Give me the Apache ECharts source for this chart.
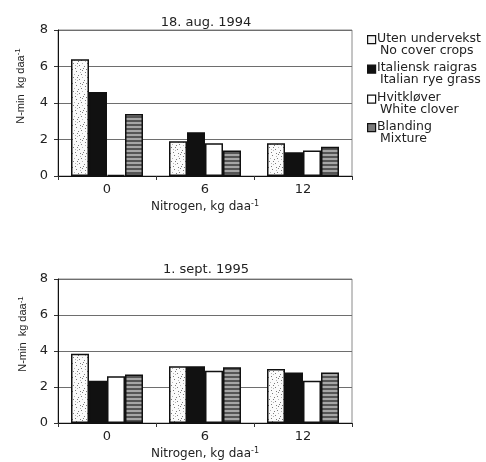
<!DOCTYPE html>
<html>
<head>
<meta charset="utf-8">
<script src="https://cdn.jsdelivr.net/npm/echarts@6/dist/echarts.min.js"></script>
<style>
  html, body { margin: 0; padding: 0; background: #fff; }
  #chart { width: 486px; height: 462px; }
</style>
</head>
<body>
<div id="chart"></div>
<script>
// Nitrogen rate categories (kg daa-1)
const categories = ['0', '6', '12'];

// N-min, kg daa-1 — 18. aug. 1994
const uten94 = [6.4, 1.9, 1.8];
const italiensk94 = [4.6, 2.4, 1.3];
const hvitklover94 = [0.05, 1.8, 1.4];
const blanding94 = [3.4, 1.4, 1.6];

// N-min, kg daa-1 — 1. sept. 1995
const uten95 = [3.85, 3.15, 3.0];
const italiensk95 = [2.35, 3.15, 2.8];
const hvitklover95 = [2.6, 2.9, 2.35];
const blanding95 = [2.7, 3.1, 2.8];

const titles = ['18. aug. 1994', '1. sept. 1995'];
const namesNo = ['Uten undervekst', 'Italiensk raigras', 'Hvitkløver', 'Blanding'];
const namesEn = ['No cover crops', 'Italian rye grass', 'White clover', 'Mixture'];

const WIDE = 'DejaVu Sans, Verdana, sans-serif';
const NARROW = 'Liberation Sans, Arial, sans-serif';

// Fill textures for the bars
function stippleCanvas() {
  const c = document.createElement('canvas');
  c.width = 14; c.height = 14;
  const g = c.getContext('2d');
  g.fillStyle = '#fbfbfb'; g.fillRect(0, 0, 14, 14);
  g.fillStyle = '#7a7a7a';
  const dots = [[1,2],[6,1],[11,4],[3,7],[9,9],[13,12],[5,12],[0,10],[8,5],[12,0],[2,13],[10,13],[7,7]];
  dots.forEach(([x, y]) => g.fillRect(x, y, 1, 1));
  g.fillStyle = '#b5b5b5';
  [[4,4],[7,10],[12,7],[1,5],[5,9],[10,2]].forEach(([x, y]) => g.fillRect(x, y, 1, 1));
  return c;
}
function stripeCanvas() {
  const c = document.createElement('canvas');
  c.width = 4; c.height = 4;
  const g = c.getContext('2d');
  g.fillStyle = '#a6a6a6'; g.fillRect(0, 0, 4, 4);
  g.fillStyle = '#555'; g.fillRect(0, 0, 4, 2);
  return c;
}
const fills = [
  { image: stippleCanvas(), repeat: 'repeat' },
  '#111',
  '#ffffff',
  { image: stripeCanvas(), repeat: 'repeat' }
];

const grids = [
  { left: 58, top: 30, width: 294, height: 146 },
  { left: 58, top: 279, width: 294, height: 144 }
];
const yNameGaps = [30, 23];

function xAxisFor(i) {
  return {
    type: 'category', gridIndex: i, data: categories,
    axisLine: { lineStyle: { color: '#111', width: 1 } },
    axisTick: { show: true, length: 4, lineStyle: { color: '#333' } },
    axisLabel: { color: '#222', fontSize: 13, fontFamily: WIDE, margin: 7 },
    name: '{n|Nitrogen, kg daa}{s|-1}',
    nameLocation: 'middle', nameGap: 24,
    nameTextStyle: {
      rich: {
        n: { fontSize: 12, fontFamily: WIDE, color: '#222' },
        s: { fontSize: 8, fontFamily: WIDE, color: '#222', verticalAlign: 'top', padding: [0, 0, 6, 0] }
      }
    }
  };
}
function yAxisFor(i) {
  return {
    type: 'value', gridIndex: i, min: 0, max: 8, interval: 2,
    axisLine: { show: true, lineStyle: { color: '#111', width: 1 } },
    axisTick: { show: true, length: 4, lineStyle: { color: '#333' } },
    axisLabel: { color: '#222', fontSize: 13, fontFamily: WIDE, margin: 10 },
    splitLine: { show: true, lineStyle: { color: '#6e6e6e', width: 1 } },
    name: '{n|N-min  kg daa}{s|-1}',
    nameLocation: 'middle', nameGap: yNameGaps[i],
    nameTextStyle: {
      padding: [0, 0, 0, 34],
      rich: {
        n: { fontSize: 11, fontFamily: NARROW, color: '#222' },
        s: { fontSize: 8, fontFamily: NARROW, color: '#222', verticalAlign: 'top', padding: [0, 0, 6, 0] }
      }
    }
  };
}

const seriesData = [
  [uten94, italiensk94, hvitklover94, blanding94],
  [uten95, italiensk95, hvitklover95, blanding95]
];
const series = [];
seriesData.forEach((group, gi) => {
  group.forEach((vals, si) => {
    series.push({
      type: 'bar', name: namesNo[si], xAxisIndex: gi, yAxisIndex: gi,
      data: vals, barWidth: 18, barGap: '0%',
      itemStyle: { color: fills[si], borderColor: '#111', borderWidth: 1.5 },
      emphasis: { disabled: true },
      animation: false
    });
  });
});

// Legend block drawn at the right of the upper panel
const legendGraphics = [];
const iconFills = ['#f4f4f4', '#111', '#ffffff', '#7a7a7a'];
const legendRows = [39, 68.5, 98.5, 127];
namesNo.forEach((nm, i) => {
  const y0 = legendRows[i];
  legendGraphics.push({
    type: 'rect', left: 367, top: y0 - 4,
    shape: { width: 8, height: 8 },
    style: { fill: iconFills[i], stroke: '#111', lineWidth: 1.2 }
  });
  legendGraphics.push({
    type: 'text', left: 377, top: y0 - 7,
    style: { text: nm, font: '12.5px ' + WIDE, fill: '#222' }
  });
  legendGraphics.push({
    type: 'text', left: 380, top: y0 + 5,
    style: { text: namesEn[i], font: '12.5px ' + WIDE, fill: '#222' }
  });
});

const chart = echarts.init(document.getElementById('chart'), null, { renderer: 'canvas' });
chart.setOption({
  animation: false,
  backgroundColor: '#fff',
  title: [
    { text: titles[0], left: 201, top: 11, textAlign: 'center',
      textStyle: { fontSize: 13, fontWeight: 'normal', fontFamily: WIDE, color: '#222' } },
    { text: titles[1], left: 201, top: 258, textAlign: 'center',
      textStyle: { fontSize: 13, fontWeight: 'normal', fontFamily: WIDE, color: '#222' } }
  ],
  grid: grids.map(g => Object.assign({ show: true, borderColor: '#8a8a8a', borderWidth: 1, backgroundColor: 'transparent' }, g)),
  xAxis: [xAxisFor(0), xAxisFor(1)],
  yAxis: [yAxisFor(0), yAxisFor(1)],
  series: series,
  graphic: legendGraphics
});
</script>
</body>
</html>
